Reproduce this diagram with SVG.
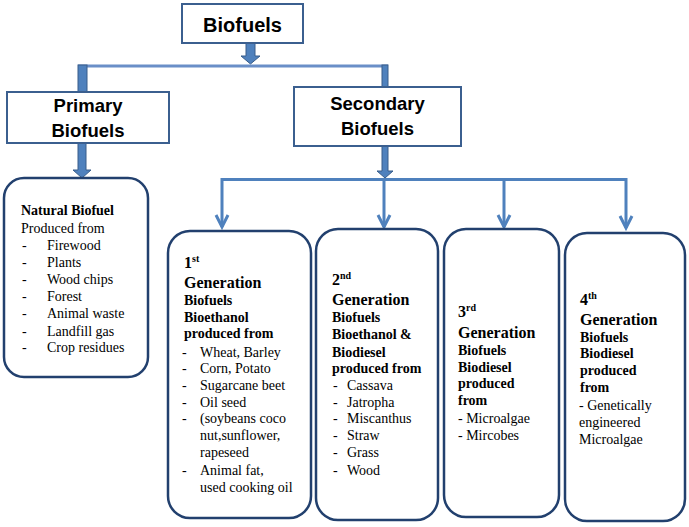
<svg xmlns="http://www.w3.org/2000/svg" width="689" height="527" viewBox="0 0 689 527">
<style>
.rbox{fill:#fff;stroke:#3b5f8f;stroke-width:2}
.gbox{fill:#fff;stroke:#22406e;stroke-width:2.5}
.hdr{font-family:"Liberation Sans",Arial,sans-serif;font-weight:bold;fill:#000;text-anchor:middle}
.t{font-family:"Liberation Serif","Times New Roman",serif;font-size:14px;fill:#000}
.b{font-weight:bold}
.g{font-size:16px;font-weight:bold}
.sup{font-size:10px}
.blk{fill:#4f81bd;stroke:#385d8a;stroke-width:1}
.ln{fill:none;stroke:#4f81bd;stroke-width:3}
.bar{fill:none;stroke:#6a8fc8;stroke-width:3}
</style>
<g id="connectors">
<polygon class="blk" points="246,43 255,43 255,56 260,56 250.5,64 241,56 246,56"/>
<line class="bar" x1="78" y1="66" x2="388" y2="66"/>
<rect class="blk" x="78" y="65" width="9" height="27"/>
<rect class="blk" x="382" y="65" width="6" height="22"/>
<polygon class="blk" points="78,143 86,143 86,170 91,170 82,178 73,170 78,170"/>
<polygon class="blk" points="382,146 388,146 388,171 393,171 385,178 377,171 382,171"/>
<polyline class="ln" points="222,227 222,179.5 626,179.5 626,228"/>
<line class="ln" x1="384" y1="179.5" x2="384" y2="227"/>
<line class="ln" x1="504" y1="179.5" x2="504" y2="227"/>
<polyline class="ln" points="216,215 222,227 228,215"/>
<polyline class="ln" points="378,215 384,227 390,215"/>
<polyline class="ln" points="498,215 504,227 510,215"/>
<polyline class="ln" points="620,216 626,228 632,216"/>
</g>
<g id="biofuels">
<rect class="rbox" x="182" y="4" width="121" height="39"/>
<text class="hdr" x="242.5" y="32" font-size="20">Biofuels</text>
</g>
<g id="primary">
<rect class="rbox" x="7" y="92" width="162" height="51"/>
<text class="hdr" x="88" y="112" font-size="18.5">Primary</text>
<text class="hdr" x="88" y="137" font-size="18.5">Biofuels</text>
</g>
<g id="secondary">
<rect class="rbox" x="294" y="87" width="167" height="59"/>
<text class="hdr" x="377.5" y="110" font-size="18.5">Secondary</text>
<text class="hdr" x="377.5" y="135" font-size="18.5">Biofuels</text>
</g>
<g id="natural">
<rect class="gbox" x="4" y="178" width="144" height="199" rx="20"/>
<text class="t b" x="21" y="215" font-size="16.5">Natural Biofuel</text>
<text class="t" x="21" y="233">Produced from</text>
<text class="t" x="22" y="250">-</text><text class="t" x="47" y="250">Firewood</text>
<text class="t" x="22" y="267">-</text><text class="t" x="47" y="267">Plants</text>
<text class="t" x="22" y="284">-</text><text class="t" x="47" y="284">Wood chips</text>
<text class="t" x="22" y="301">-</text><text class="t" x="47" y="301">Forest</text>
<text class="t" x="22" y="318">-</text><text class="t" x="47" y="318">Animal waste</text>
<text class="t" x="22" y="336">-</text><text class="t" x="47" y="336">Landfill gas</text>
<text class="t" x="22" y="352">-</text><text class="t" x="47" y="352">Crop residues</text>
</g>
<g id="gen1">
<rect class="gbox" x="168" y="231" width="143" height="287" rx="22"/>
<text class="t g" x="184" y="268">1<tspan class="sup" dy="-6">st</tspan></text>
<text class="t g" x="184" y="288">Generation</text>
<text class="t b" x="184" y="305">Biofuels</text>
<text class="t b" x="184" y="322">Bioethanol</text>
<text class="t b" x="184" y="338">produced from</text>
<text class="t" x="182" y="357">-</text><text class="t" x="200" y="357">Wheat, Barley</text>
<text class="t" x="182" y="373">-</text><text class="t" x="200" y="373">Corn, Potato</text>
<text class="t" x="182" y="390">-</text><text class="t" x="200" y="390">Sugarcane beet</text>
<text class="t" x="182" y="407">-</text><text class="t" x="200" y="407">Oil seed</text>
<text class="t" x="182" y="423">-</text><text class="t" x="200" y="423">(soybeans coco</text>
<text class="t" x="200" y="440">nut,sunflower,</text>
<text class="t" x="200" y="457">rapeseed</text>
<text class="t" x="182" y="475">-</text><text class="t" x="200" y="475">Animal fat,</text>
<text class="t" x="200" y="492">used cooking oil</text>
</g>
<g id="gen2">
<rect class="gbox" x="316" y="229" width="122" height="291" rx="22"/>
<text class="t g" x="332" y="285">2<tspan class="sup" dy="-6">nd</tspan></text>
<text class="t g" x="332" y="305">Generation</text>
<text class="t b" x="332" y="322">Biofuels</text>
<text class="t b" x="332" y="339">Bioethanol &amp;</text>
<text class="t b" x="332" y="357">Biodiesel</text>
<text class="t b" x="332" y="373">produced from</text>
<text class="t" x="333" y="390">-</text><text class="t" x="347" y="390">Cassava</text>
<text class="t" x="333" y="407">-</text><text class="t" x="347" y="407">Jatropha</text>
<text class="t" x="333" y="423">-</text><text class="t" x="347" y="423">Miscanthus</text>
<text class="t" x="333" y="440">-</text><text class="t" x="347" y="440">Straw</text>
<text class="t" x="333" y="457">-</text><text class="t" x="347" y="457">Grass</text>
<text class="t" x="333" y="475">-</text><text class="t" x="347" y="475">Wood</text>
</g>
<g id="gen3">
<rect class="gbox" x="444" y="229" width="115" height="288" rx="22"/>
<text class="t g" x="458" y="317">3<tspan class="sup" dy="-6">rd</tspan></text>
<text class="t g" x="458" y="338">Generation</text>
<text class="t b" x="458" y="355">Biofuels</text>
<text class="t b" x="458" y="372">Biodiesel</text>
<text class="t b" x="458" y="388">produced</text>
<text class="t b" x="458" y="405">from</text>
<text class="t" x="458" y="423">- Microalgae</text>
<text class="t" x="458" y="440">- Mircobes</text>
</g>
<g id="gen4">
<rect class="gbox" x="565" y="233" width="120" height="288" rx="22"/>
<text class="t g" x="580" y="305">4<tspan class="sup" dy="-6">th</tspan></text>
<text class="t g" x="580" y="325">Generation</text>
<text class="t b" x="580" y="342">Biofuels</text>
<text class="t b" x="580" y="358">Biodiesel</text>
<text class="t b" x="580" y="375">produced</text>
<text class="t b" x="580" y="392">from</text>
<text class="t" x="579" y="410">- Genetically</text>
<text class="t" x="579" y="427">engineered</text>
<text class="t" x="579" y="444">Microalgae</text>
</g>
</svg>
